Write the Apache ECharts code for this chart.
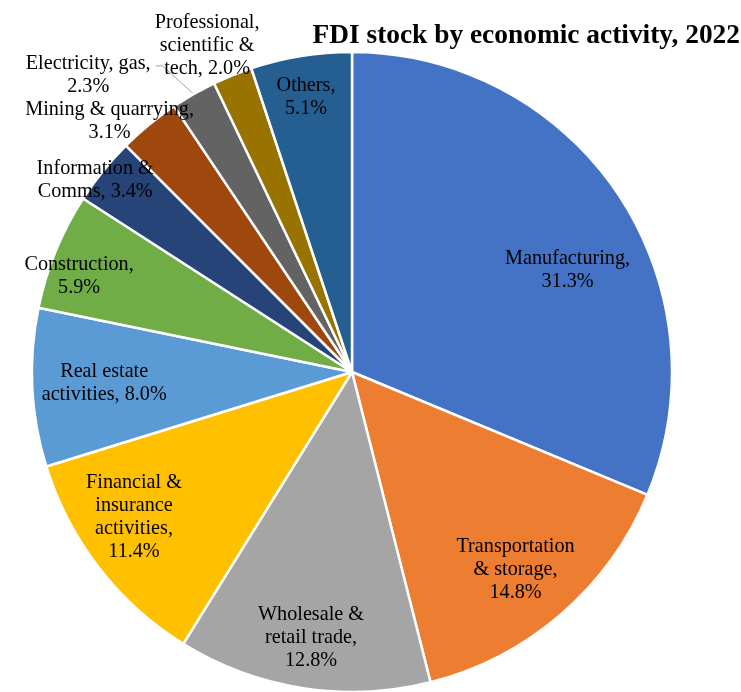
<!DOCTYPE html>
<html><head><meta charset="utf-8">
<script src="https://cdn.jsdelivr.net/npm/echarts@6/dist/echarts.min.js"></script>
<style>html,body{margin:0;padding:0;background:#fff}#c{width:741px;height:692px}</style>
</head><body><div id="c"></div>
<script>
// ---- data ----
const categories = ['Manufacturing', 'Transportation\n& storage', 'Wholesale &\nretail trade', 'Financial &\ninsurance\nactivities', 'Real estate\nactivities', 'Construction', 'Information &\nComms', 'Mining & quarrying', 'Electricity, gas', 'Professional,\nscientific &\ntech', 'Others'];
const shares = [31.3, 14.8, 12.8, 11.4, 8.0, 5.9, 3.4, 3.1, 2.3, 2.0, 5.1];
const labelJoin = ['\n', '\n', '\n', '\n', ' ', '\n', ' ', '\n', '\n', ' ', '\n'];
const titleText = 'FDI stock by economic activity, 2022';

// ---- styles ----
const colors = ['#4472C4', '#ED7D31', '#A5A5A5', '#FFC000', '#5B9BD5', '#70AD47', '#264478', '#9E480E', '#636363', '#997300', '#255E91'];
const labelShift = [[80, -11], [57, 74], [-16, 105], [-89, 46], [-85, 3], [-122, -34], [-130, -89], [-139, -125], [-78, -6], [-84, -175], [-20, -114]];
const OUTSIDE = 8;

const chart = echarts.init(document.getElementById('c'), null, {renderer: 'canvas'});
chart.setOption({
  animation: false,
  backgroundColor: '#fff',
  title: {
    text: titleText, right: 1, top: 22, padding: 0,
    textStyle: {fontFamily: 'Liberation Serif', fontWeight: 'bold', fontSize: 27.4, color: '#000'}
  },
  series: [{
    type: 'pie',
    center: [352, 372],
    radius: [0, 320],
    startAngle: 90,
    clockwise: true,
    avoidLabelOverlap: false,
    emphasis: {disabled: true},
    itemStyle: {borderColor: '#fff', borderWidth: 2.5},
    label: {
      position: 'inside', color: '#000', fontFamily: 'Liberation Serif', fontSize: 20.2, lineHeight: 23,
      formatter: p => p.name + ',' + labelJoin[p.dataIndex] + p.value.toFixed(1) + '%'
    },
    labelLine: {show: false},
    data: shares.map((v, i) => ({
      value: v, name: categories[i],
      itemStyle: {color: colors[i]},
      label: i === OUTSIDE ? {position: 'outside'} : {},
      labelLine: i === OUTSIDE ? {show: true, length: 15, length2: 15, lineStyle: {color: '#a6a6a6', width: 1}} : {show: false}
    })),
    labelLayout: function (p) {
      const s = labelShift[p.dataIndex];
      if (p.dataIndex === OUTSIDE && p.labelLinePoints) {
        const r = p.labelRect;
        const anchorX = r.x + r.width;
        const right = anchorX + s[0] + r.width / 2;
        const top = r.y + s[1];
        return {
          dx: s[0], dy: s[1], align: 'center',
          labelLinePoints: [p.labelLinePoints[0], [right + 12, top + 14], [right + 5, top + 14]]
        };
      }
      return {dx: s[0], dy: s[1]};
    }
  }]
});
</script></body></html>
